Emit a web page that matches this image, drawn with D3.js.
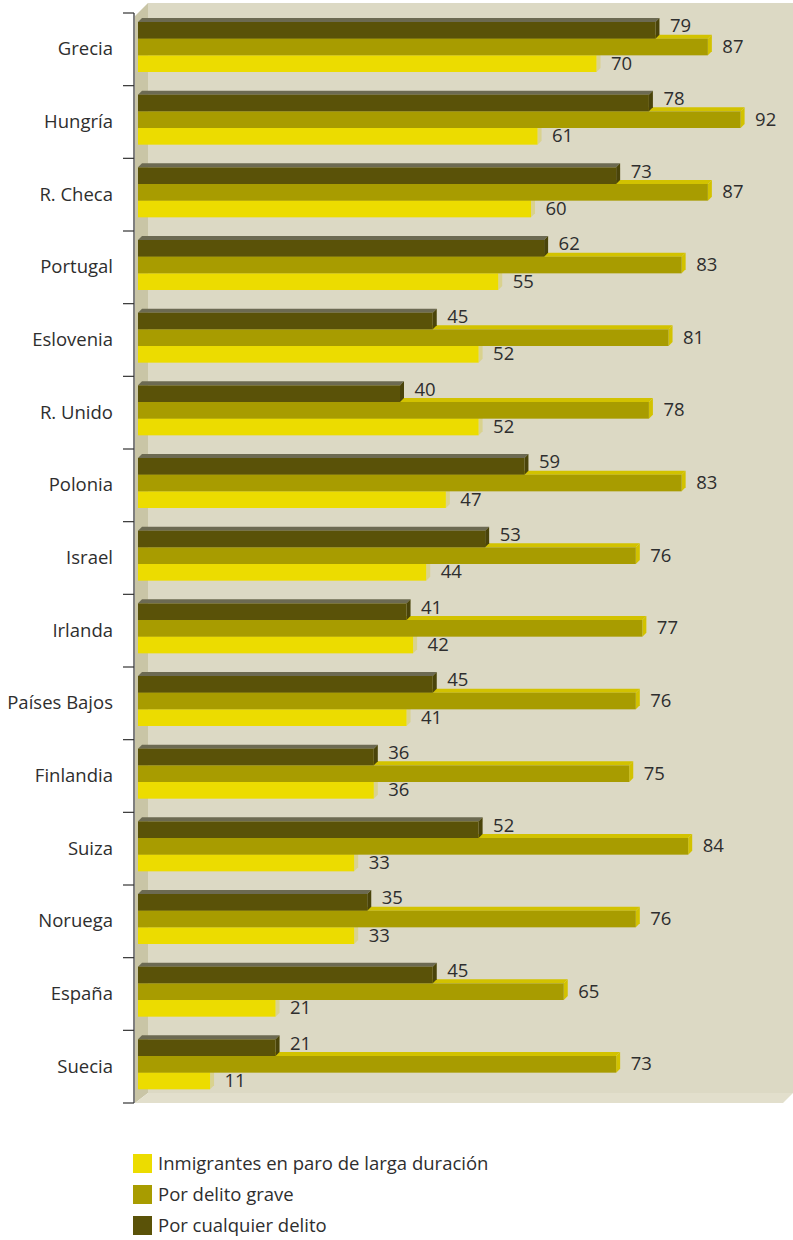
<!DOCTYPE html>
<html><head><meta charset="utf-8">
<script src="https://cdn.jsdelivr.net/npm/d3@7"></script>
<style>body{margin:0;background:#fff}svg{display:block}text{font-family:"Open Sans",sans-serif;fill:#2e2e2e}</style>
</head><body><svg id="c" width="793" height="1240"></svg>
<script>
const categories = ["Grecia","Hungría","R. Checa","Portugal","Eslovenia","R. Unido","Polonia","Israel","Irlanda","Países Bajos","Finlandia","Suiza","Noruega","España","Suecia"];
const seriesNames = ["Por cualquier delito","Por delito grave","Inmigrantes en paro de larga duración"];
const cualquier = [79,78,73,62,45,40,59,53,41,45,36,52,35,45,21];
const grave = [87,92,87,83,81,78,83,76,77,76,75,84,76,65,73];
const paro = [70,61,60,55,52,52,47,44,42,41,36,33,33,21,11];
const legendOrder = ["Inmigrantes en paro de larga duración","Por delito grave","Por cualquier delito"];

const svg = d3.select("#c");
const FS = 18.5;
const front = ["#5a5208","#a89c00","#ecdc00"];
const topC = ["#6c6a52","#d2c200","#ecdc00"];
const sideC = ["#4a440a","#d2c200","#d9d28e"];
const legendColor = {"Inmigrantes en paro de larga duración":"#ecdc00","Por delito grave":"#a89c00","Por cualquier delito":"#5a5208"};

const x = d3.scaleLinear().domain([0,92]).range([138,138+92*6.55]);
const y = d3.scaleBand().domain(categories).range([13,1103]);
const inner = d3.scaleBand().domain([0,1,2]).range([9,59]);
const dx=4, dy=4;

// walls
svg.append("rect").attr("x",148).attr("y",3).attr("width",645).attr("height",1090).attr("fill","#dcd9c4");
svg.append("path").attr("d","M135,16 L148,3 L148,1093 L135,1103 Z").attr("fill","#c9c5a6");
svg.append("path").attr("d","M135,1103 L148,1093 L793,1093 L783,1103 Z").attr("fill","#e2dfcc");

// axis
const ax = svg.append("g").attr("transform","translate(134,0)");
ax.append("line").attr("x1",0).attr("x2",0).attr("y1",13).attr("y2",1103).attr("stroke","#555").attr("stroke-width",1.5);
const tickYs = categories.map(c=>y(c)).concat([1103]);
ax.selectAll("line.t").data(tickYs).join("line").attr("class","t").attr("x1",-11).attr("x2",0).attr("y1",d=>d).attr("y2",d=>d).attr("stroke","#333").attr("stroke-width",1.2);
svg.append("g").selectAll("text").data(categories).join("text")
  .attr("x",113).attr("y",d=>y(d)+y.bandwidth()/2+1).attr("text-anchor","end").attr("dominant-baseline","middle")
  .attr("font-size",FS).text(d=>d);

const data = [cualquier, grave, paro];
for (let k=2;k>=0;k--){
  const g = svg.append("g");
  categories.forEach((c,i)=>{
    const v = data[k][i];
    const y0 = y(c)+inner(k), h = inner.bandwidth(), x0 = x(0), x1 = x(v);
    g.append("path").attr("d",`M${x0},${y0} L${x0+dx},${y0-dy} L${x1+dx},${y0-dy} L${x1},${y0} Z`).attr("fill",topC[k]);
    g.append("path").attr("d",`M${x1},${y0} L${x1+dx},${y0-dy} L${x1+dx},${y0+h-dy} L${x1},${y0+h} Z`).attr("fill",sideC[k]);
    g.append("rect").attr("x",x0).attr("y",y0).attr("width",x1-x0).attr("height",h).attr("fill",front[k]);
  });
}
for (let k=0;k<3;k++){
  svg.append("g").selectAll("text").data(categories).join("text")
   .attr("x",(c,i)=>x(data[k][i])+14.5).attr("y",c=>y(c)+inner(k)+inner.bandwidth()/2-(k===0?4:0)+1)
   .attr("dominant-baseline","middle").attr("font-size",FS).text((c,i)=>data[k][i]);
}

// legend
const lg = svg.append("g").selectAll("g").data(legendOrder).join("g").attr("transform",(d,i)=>`translate(133,${1154+i*31})`);
lg.append("rect").attr("width",19).attr("height",19).attr("fill",d=>legendColor[d]);
lg.append("text").attr("x",25).attr("y",11).attr("dominant-baseline","middle").attr("font-size",FS).text(d=>d);
</script></body></html>
